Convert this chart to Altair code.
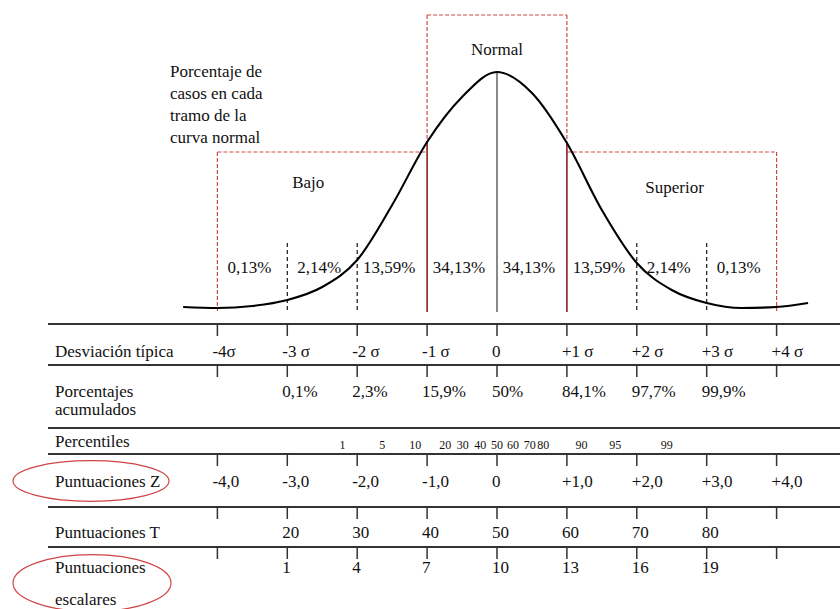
import altair as alt
import pandas as pd

# ---------------- data ----------------
sigma_pos = [-4, -3, -2, -1, 0, 1, 2, 3, 4]
sigma_labels = ["-4σ", "-3 σ", "-2 σ", "-1 σ", "0", "+1 σ", "+2 σ", "+3 σ", "+4 σ"]
acum_labels = ["", "0,1%", "2,3%", "15,9%", "50%", "84,1%", "97,7%", "99,9%", ""]
z_labels = ["-4,0", "-3,0", "-2,0", "-1,0", "0", "+1,0", "+2,0", "+3,0", "+4,0"]
t_labels = ["", "20", "30", "40", "50", "60", "70", "80", ""]
esc_labels = ["", "1", "4", "7", "10", "13", "16", "19", ""]

tramo_mid = [-3.5, -2.5, -1.5, -0.5, 0.5, 1.5, 2.5, 3.5]
tramo_pct = ["0,13%", "2,14%", "13,59%", "34,13%", "34,13%", "13,59%", "2,14%", "0,13%"]

percentile_labels = ["1", "5", "10", "20", "30", "40", "50", "60", "70", "80", "90", "95", "99"]
percentile_pos = [-2.21, -1.64, -1.17, -0.74, -0.49, -0.24, 0.0, 0.23, 0.47, 0.66, 1.21, 1.69, 2.43]

# curve (height above baseline, arbitrary units)
curve_z = [-4.49, -4.0, -3.5, -3.0, -2.5, -2.0, -1.5, -1.0, -0.5, 0.0,
           0.5, 1.0, 1.5, 2.0, 2.5, 3.0, 3.5, 4.0, 4.45]
curve_h = [1, 0, 2, 8, 21, 48, 103, 166, 211, 236,
           215, 165, 98, 45, 18, 5, 0, 1, 5]

zonas = ["Bajo", "Normal", "Superior"]
zonas_pos = [-2.7, 0.0, 2.54]

row_names = ["Desviación típica", "Porcentajes", "acumulados", "Percentiles",
             "Puntuaciones Z", "Puntuaciones T", "Puntuaciones", "escalares"]
nota = ["Porcentaje de", "casos en cada", "tramo de la", "curva normal"]

# ---------------- layout (pixels) ----------------
W, H = 840, 609
FONT = "Liberation Serif, Times New Roman, serif"
RED = "#c94a4a"
DARKRED = "#8e1f1f"

row_name_y = [352, 392, 410, 442, 482, 533, 568, 600]
nota_y = [72, 94, 116, 138]
zonas_y = [183, 50, 188]
table_lines_y = [324, 365, 428, 454, 507, 547]
tick_lines_y = [324, 365, 454, 507, 547]
value_rows = [(sigma_labels, 352), (acum_labels, 392), (z_labels, 482),
              (t_labels, 533), (esc_labels, 568)]

xs = alt.Scale(domain=[-7.11, 4.907], nice=False, zero=False)
X = lambda f: alt.X(f, type="quantitative", scale=xs, axis=None)
Yp = lambda f: alt.Y(f, type="quantitative", scale=None, axis=None)

# curve
curve_df = pd.DataFrame({"z": curve_z, "h": curve_h})
curve = alt.Chart(curve_df).mark_line(color="black", strokeWidth=2.1, interpolate="monotone").encode(
    x=X("z"),
    y=alt.Y("h:Q", scale=alt.Scale(domain=[0, 236], range=[308, 72]), axis=None),
)

# red dashed boxes
box_df = pd.DataFrame([
    {"x": -4, "x2": -1, "y": 152, "y2": 152},
    {"x": -4, "x2": -4, "y": 152, "y2": 311},
    {"x": -1, "x2": 1, "y": 15, "y2": 15},
    {"x": -1, "x2": -1, "y": 15, "y2": 143},
    {"x": 1, "x2": 1, "y": 15, "y2": 143},
    {"x": 1, "x2": 4, "y": 152, "y2": 152},
    {"x": 4, "x2": 4, "y": 152, "y2": 311},
])
boxes = alt.Chart(box_df).mark_rule(color=RED, strokeWidth=1.2, strokeDash=[4, 2]).encode(
    x=X("x"), x2="x2", y=Yp("y"), y2="y2"
)

# solid dark red at +-1 sigma
pm1_df = pd.DataFrame({"x": [-1, 1], "y": [143, 143], "y2": [312, 312]})
pm1 = alt.Chart(pm1_df).mark_rule(color=DARKRED, strokeWidth=1.6).encode(
    x=X("x"), y=Yp("y"), y2="y2"
)

# black dashed at +-2, +-3
dash_df = pd.DataFrame({"x": [-3, -2, 2, 3], "y": [243] * 4, "y2": [312] * 4})
dashes = alt.Chart(dash_df).mark_rule(color="black", strokeWidth=1.1, strokeDash=[4, 3]).encode(
    x=X("x"), y=Yp("y"), y2="y2"
)

# center line
mid_df = pd.DataFrame({"x": [0], "y": [72], "y2": [312]})
midline = alt.Chart(mid_df).mark_rule(color="#6b6b6b", strokeWidth=1.6).encode(
    x=X("x"), y=Yp("y"), y2="y2"
)

# table lines
tl_df = pd.DataFrame({"y": table_lines_y})
tlines = alt.Chart(tl_df).mark_rule(color="#333333", strokeWidth=2).encode(
    x=alt.value(48), x2=alt.value(W), y=Yp("y")
)

# ticks
tk_rows = []
for ly in tick_lines_y:
    for p in sigma_pos:
        tk_rows.append({"x": p, "y": ly, "y2": ly + 12})
ticks = alt.Chart(pd.DataFrame(tk_rows)).mark_rule(color="#333333", strokeWidth=1.5).encode(
    x=X("x"), y=Yp("y"), y2="y2"
)

# row names
rn_df = pd.DataFrame({"t": row_names, "y": row_name_y})
rnames = alt.Chart(rn_df).mark_text(font=FONT, fontSize=17, align="left", baseline="middle", color="#111").encode(
    x=alt.value(55), y=Yp("y"), text="t:N"
)

# value rows
vr = []
for labels, yy in value_rows:
    for p, lab in zip(sigma_pos, labels):
        if lab:
            vr.append({"x": p, "y": yy, "t": lab})
values = alt.Chart(pd.DataFrame(vr)).mark_text(font=FONT, fontSize=17, align="left", baseline="middle", dx=-5, color="#111").encode(
    x=X("x"), y=Yp("y"), text="t:N"
)

# percentiles
pc_df = pd.DataFrame({"x": percentile_pos, "t": percentile_labels})
pcts = alt.Chart(pc_df).mark_text(font=FONT, fontSize=12, align="center", baseline="middle", color="#111").encode(
    x=X("x"), y=alt.value(445), text="t:N"
)

# section percentages
tr_df = pd.DataFrame({"x": tramo_mid, "t": tramo_pct})
tramos = alt.Chart(tr_df).mark_text(font=FONT, fontSize=17, align="center", baseline="middle", dx=-3, color="#111").encode(
    x=X("x"), y=alt.value(268), text="t:N"
)

# zone names
zn_df = pd.DataFrame({"x": zonas_pos, "y": zonas_y, "t": zonas})
znames = alt.Chart(zn_df).mark_text(font=FONT, fontSize=17, align="center", baseline="middle", color="#111").encode(
    x=X("x"), y=Yp("y"), text="t:N"
)

# note
nt_df = pd.DataFrame({"t": nota, "y": nota_y})
note = alt.Chart(nt_df).mark_text(font=FONT, fontSize=17, align="left", baseline="middle", color="#111").encode(
    x=alt.value(170), y=Yp("y"), text="t:N"
)

# ellipses (custom symbol paths)
def ellipse_path(r):
    k = 0.5523
    return (f"M -1 0 C -1 {-k*r:.4f} {-k:.4f} {-r:.4f} 0 {-r:.4f} "
            f"C {k:.4f} {-r:.4f} 1 {-k*r:.4f} 1 0 "
            f"C 1 {k*r:.4f} {k:.4f} {r:.4f} 0 {r:.4f} "
            f"C {-k:.4f} {r:.4f} -1 {k*r:.4f} -1 0 Z")

ell_df = pd.DataFrame({"k": [0]})
ell1 = alt.Chart(ell_df).mark_point(shape=ellipse_path(0.26), filled=False, color="#d04545",
                                    strokeWidth=1.2, size=156 ** 2, opacity=1).encode(
    x=alt.value(91), y=alt.value(481)
)
ell2 = alt.Chart(ell_df).mark_point(shape=ellipse_path(0.36), filled=False, color="#d04545",
                                    strokeWidth=1.2, size=158 ** 2, opacity=1).encode(
    x=alt.value(92), y=alt.value(583)
)

chart = alt.layer(
    boxes, dashes, midline, pm1, curve, tlines, ticks,
    rnames, values, pcts, tramos, znames, note, ell1, ell2
).properties(
    width=W, height=H, autosize=alt.AutoSizeParams(type="none"), padding=0,
    background="white"
).configure_view(stroke=None)

chart.save("out.html", embed_options={"renderer": "svg", "actions": False})
